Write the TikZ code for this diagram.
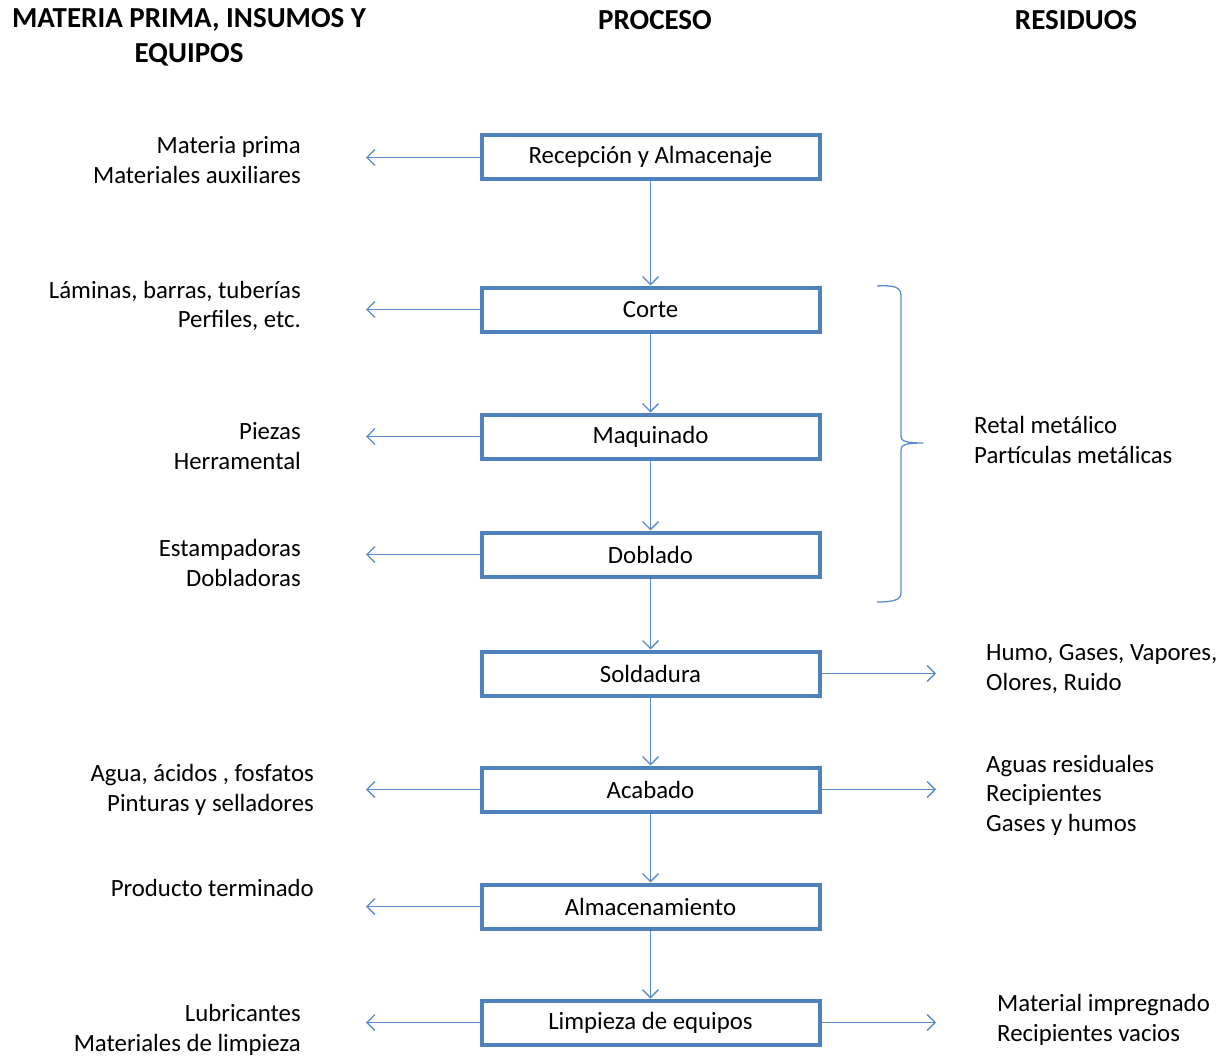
\documentclass[tikz,border=0pt]{standalone}
\usepackage{fontspec}
\setmainfont{Carlito}
\usetikzlibrary{arrows.meta}
\definecolor{boxblue}{HTML}{4F81BD}
\definecolor{lineblue}{HTML}{5B8BCB}
\begin{document}
\begin{tikzpicture}[x=1pt,y=-1pt,
  procbox/.style={draw=boxblue,line width=4pt,minimum width=338pt,minimum height=44pt,inner sep=0pt,font=\fontsize{24.8}{29}\selectfont},
  flow/.style={draw=lineblue,line width=1.3pt,-{Straight Barb[length=8pt,width=16pt,line width=1.3pt]}},
  lefttxt/.style={anchor=east,align=right,font=\fontsize{24.8}{29.5}\selectfont,inner sep=0pt},
  righttxt/.style={anchor=west,align=left,font=\fontsize{24.8}{29.5}\selectfont,inner sep=0pt},
  head/.style={font=\bfseries\fontsize{29}{35}\selectfont,align=center,inner sep=0pt}]
\useasboundingbox (0,0) rectangle (1225,1059);
% headers
\node[head] (h1) at (189,37) {MATERIA PRIMA, INSUMOS Y\\EQUIPOS};
\node[head] (h2) at (655,20) {PROCESO};
\node[head] (h3) at (1076,20) {RESIDUOS};
% process boxes
\node[procbox] (b1) at (650.5,157.5) {Recepción y Almacenaje};
\node[procbox] (b2) at (650.5,309.5) {Corte};
\node[procbox] (b3) at (650.5,436.5) {Maquinado};
\node[procbox] (b4) at (650.5,554.5) {Doblado};
\node[procbox] (b5) at (650.5,673.5) {Soldadura};
\node[procbox] (b6) at (650.5,789.5) {Acabado};
\node[procbox] (b7) at (650.5,906.5) {Almacenamiento};
\node[procbox] (b8) at (650.5,1022.5) {Limpieza de equipos};
% vertical flow
\foreach \a/\b in {b1/b2,b2/b3,b3/b4,b4/b5,b5/b6,b6/b7,b7/b8}
  \draw[flow] (\a.south) -- (\b.north);
% left arrow end points
\coordinate (l1) at (366,157.5);
\coordinate (l2) at (366,309.5);
\coordinate (l3) at (366,436.5);
\coordinate (l4) at (366,554.5);
\coordinate (l6) at (366,789.5);
\coordinate (l7) at (366,906.5);
\coordinate (l8) at (366,1022.5);
\foreach \b/\c in {b1/l1,b2/l2,b3/l3,b4/l4,b6/l6,b7/l7,b8/l8}
  \draw[flow] (\b.west) -- (\c);
% right arrow end points
\coordinate (r5) at (936,673.5);
\coordinate (r6) at (936,789.5);
\coordinate (r8) at (936,1022.5);
\foreach \b/\c in {b5/r5,b6/r6,b8/r8}
  \draw[flow] (\b.east) -- (\c);
% left texts
\node[lefttxt] (t1) at (301,160) {Materia prima\\Materiales auxiliares};
\node[lefttxt] (t2) at (301,306) {Láminas, barras, tuberías\\Perfiles, etc.};
\node[lefttxt] (t3) at (301,446) {Piezas\\Herramental};
\node[lefttxt] (t4) at (301,563) {Estampadoras\\Dobladoras};
\node[lefttxt] (t6) at (314,790) {Agua, ácidos , fosfatos\\Pinturas y selladores};
\node[lefttxt] (t7) at (314,888) {Producto terminado};
\node[lefttxt] (t8) at (301,1030) {Lubricantes\\Materiales de limpieza};
% right texts
\node[righttxt] (u3) at (974,440) {Retal metálico\\Partículas metálicas};
\node[righttxt] (u5) at (986,669) {Humo, Gases, Vapores,\\Olores, Ruido};
\node[righttxt] (u6) at (986,795) {Aguas residuales\\Recipientes\\Gases y humos};
\node[righttxt] (u8) at (997,1020) {Material impregnado\\Recipientes vacios};
% brace
\draw[draw=lineblue,line width=1.3pt]
  (877,286) .. controls (893,285) and (901,287) .. (901,295)
  -- (901,436) .. controls (901,441) and (905,443) .. (923,443)
  .. controls (905,443) and (901,445) .. (901,450)
  -- (901,593) .. controls (901,600) and (893,602) .. (877,602);
\end{tikzpicture}
\end{document}
